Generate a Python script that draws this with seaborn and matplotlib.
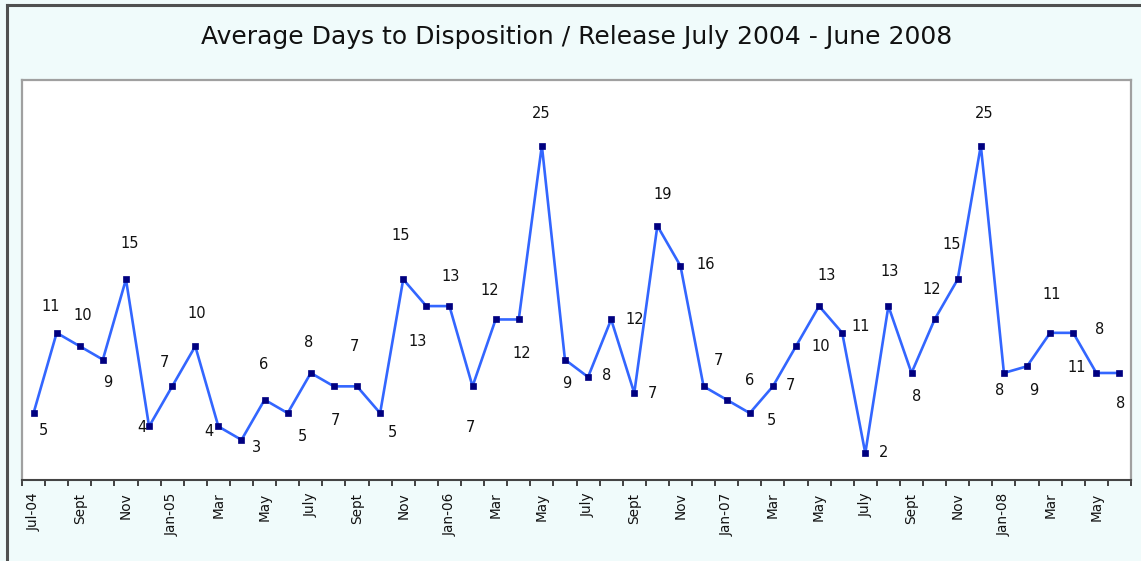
import numpy as np
import seaborn as sns
import pandas as pd
from matplotlib import pyplot as plt
from matplotlib.lines import Line2D

title = "Average Days to Disposition / Release July 2004 - June 2008"

# one value per month, Jul-04 .. Jun-08
days = [5, 11, 10, 9, 15, 4, 7, 10, 4, 3, 6, 5,
        8, 7, 7, 5, 15, 13, 13, 7, 12, 12, 25, 9,
        7.7, 12, 6.5, 19, 16, 7, 6, 5, 7, 10, 13, 11,
        2, 13, 8, 12, 15, 25, 8, 8.5, 11, 11, 8, 8]
day_labels = ["5", "11", "10", "9", "15", "4", "7", "10", "4", "3", "6", "5",
              "8", "7", "7", "5", "15", "13", "13", "7", "12", "12", "25", "9",
              "8", "12", "7", "19", "16", "7", "6", "5", "7", "10", "13", "11",
              "2", "13", "8", "12", "15", "25", "8", "9", "11", "11", "8", "8"]
tick_labels = ["Jul-04", "Sept", "Nov", "Jan-05", "Mar", "May",
               "July", "Sept", "Nov", "Jan-06", "Mar", "May",
               "July", "Sept", "Nov", "Jan-07", "Mar", "May",
               "July", "Sept", "Nov", "Jan-08", "Mar", "May"]

# label offsets from each point, in pixels (dx right, dy down)
label_off = [(10, 17), (-6, -26), (3, -31), (5, 23), (4, -36), (-7, 1),
             (-8, -24), (1, -33), (-9, 5), (15, 8), (-1, -35), (15, 23),
             (-2, -30), (2, 34), (-3, -40), (12, 19), (-3, -44), (-9, 35),
             (1, -30), (-2, 41), (-6, -29), (3, 34), (-1, -32), (2, 24),
             (19, -1), (24, 0), (18, 0), (5, -31), (25, -1), (15, -26),
             (23, -19), (22, 7), (18, -1), (25, 0), (8, -31), (18, -6),
             (18, -1), (1, -35), (5, 24), (-3, -30), (-6, -35), (3, -32),
             (-4, 18), (7, 24), (2, -38), (3, 35), (3, -43), (1, 31)]

df = pd.DataFrame({"month": np.arange(len(days)), "days": days})

bg = "#f0fbfb"
fig = plt.figure(figsize=(11.41, 5.61), dpi=100, facecolor=bg)
ax = fig.add_axes([22 / 1141, 1 - 480 / 561, (1131 - 22) / 1141, 400 / 561])
ax.set_facecolor("white")

sns.lineplot(data=df, x="month", y="days", ax=ax, color="#3366ff", linewidth=1.9,
             marker="s", markersize=4.2, markerfacecolor="#000080",
             markeredgecolor="#000080", markeredgewidth=0.5)

for i, (v, lab) in enumerate(zip(days, day_labels)):
    dx, dy = label_off[i]
    ax.annotate(lab, (i, v), xytext=(dx * 0.72, -dy * 0.72), textcoords="offset points",
                ha="center", va="center", fontsize=10.5, color="#111111")

ax.set_xlim(-0.5, len(days) - 0.5)
ax.set_ylim(0, 29.9)
ax.set_xlabel("")
ax.set_ylabel("")
ax.set_yticks([])
ax.set_xticks(np.arange(0, len(days), 2))
ax.set_xticklabels(tick_labels, rotation=90, fontsize=9.8, color="#111111")
ax.set_xticks(np.arange(-0.5, len(days), 1), minor=True)
ax.tick_params(axis="x", which="major", length=0, pad=9)
ax.tick_params(axis="x", which="minor", length=4.5, width=1.3, color="#333333")

for s in ["left", "top", "right"]:
    ax.spines[s].set_color("#a0a0a0")
    ax.spines[s].set_linewidth(1.6)
ax.spines["bottom"].set_color("#444444")
ax.spines["bottom"].set_linewidth(1.5)

fig.text(577 / 1141, 1 - 37 / 561, title, ha="center", va="center",
         fontsize=18, color="#111111")

# outer frame, top and left edges only
fig.add_artist(Line2D([7 / 1141, 1], [1 - 5 / 561, 1 - 5 / 561], color="#505050", lw=2.2))
fig.add_artist(Line2D([7 / 1141, 7 / 1141], [0, 1 - 5 / 561], color="#505050", lw=2.2))

plt.savefig("out.png", dpi=100, facecolor=bg)
